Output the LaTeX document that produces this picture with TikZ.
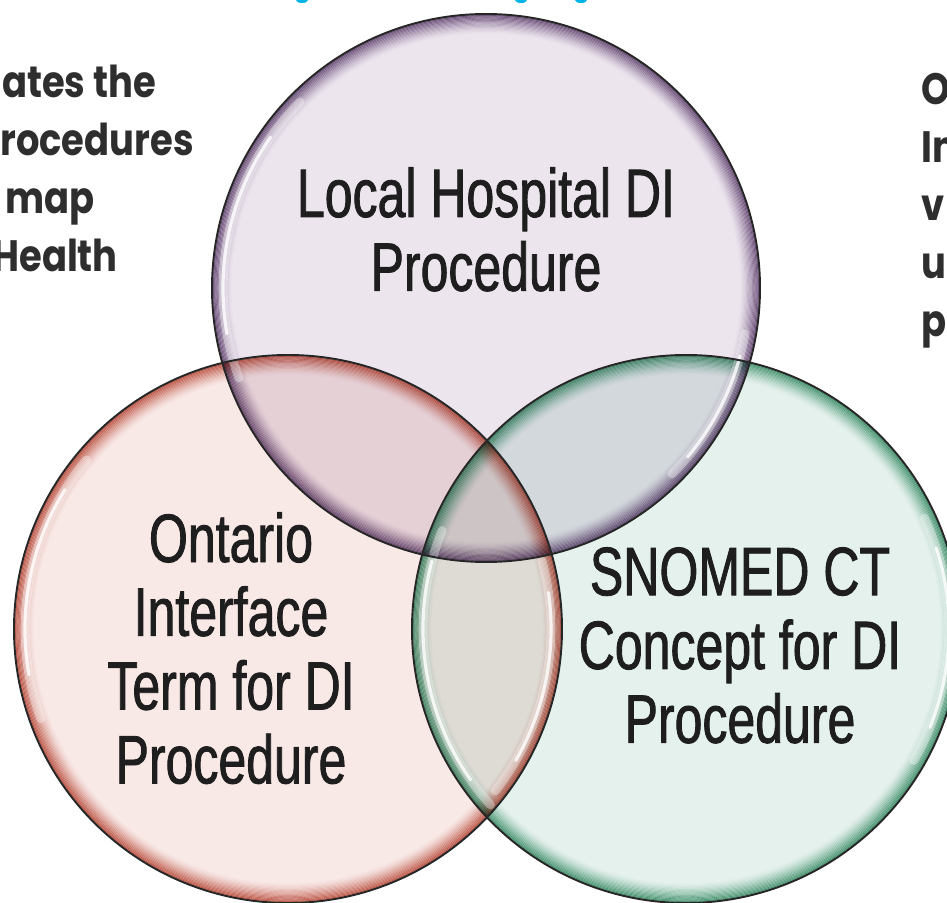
\documentclass[tikz,border=0pt]{standalone}
\usepackage{fontspec}
\newfontfamily\condfont[FakeStretch=0.73, FakeBold=1.2]{Liberation Sans}
\newfontfamily\sidefont[FakeStretch=0.84]{Poppins}
\usepackage{xcolor}
\definecolor{localFill}{HTML}{ECE5EE}
\definecolor{localRim}{HTML}{6E4C7E}
\definecolor{ontFill}{HTML}{F8E8E6}
\definecolor{ontRim}{HTML}{C4543F}
\definecolor{snoFill}{HTML}{E5F1ED}
\definecolor{snoRim}{HTML}{3F9B73}
\definecolor{textdark}{HTML}{1E1E1E}
\definecolor{sidegray}{HTML}{2E2E2E}
\definecolor{titlecyan}{HTML}{00B4E6}
\newcommand\rad{274}

\begin{document}
\begin{tikzpicture}[x=0.02cm, y=0.02cm,
    circtext/.style={font=\condfont\fontsize{39}{42}\selectfont, text=textdark, align=center, inner sep=0pt, anchor=north},
    sidetext/.style={font=\sidefont\bfseries\fontsize{25}{33}\selectfont, text=sidegray, align=left, inner sep=0pt, anchor=north west},
    shine/.style={white, line width=5pt, opacity=0.35, line cap=round},
    shineline/.style={white, line width=1.8pt, opacity=0.8, line cap=round}]

    \useasboundingbox (0,0) rectangle (947,903);
    \clip (0,0) rectangle (947,903);

    \coordinate (c_local) at (486,615);
    \coordinate (c_ont) at (288,274);
    \coordinate (c_sno) at (686,274);

    % tinted discs and their rims
    \begin{scope}[blend mode=multiply]
        \fill[localFill] (c_local) circle[radius=\rad];
        \fill[ontFill] (c_ont) circle[radius=\rad];
        \fill[snoFill] (c_sno) circle[radius=\rad];
        \foreach \k [evaluate=\k as \op using 0.65*(1-\k/16)^1.5] in {0,...,15} {
            \draw[localRim, line width=1pt, draw opacity=\op] (c_local) circle[radius={\rad-1-\k*1.2}];
            \draw[ontRim, line width=1pt, draw opacity=\op] (c_ont) circle[radius={\rad-1-\k*1.2}];
            \draw[snoRim, line width=1pt, draw opacity=\op] (c_sno) circle[radius={\rad-1-\k*1.2}];
        }
    \end{scope}

    % highlights
    \draw[shine] (c_local) ++(135:263) arc[start angle=135, end angle=200, radius=263];
    \draw[shineline] (c_local) ++(145:263) arc[start angle=145, end angle=190, radius=263];
    \draw[shine] (c_local) ++(-10:263) arc[start angle=-10, end angle=-45, radius=263];
    \draw[shineline] (c_local) ++(-15:263) arc[start angle=-15, end angle=-40, radius=263];

    \draw[shine] (c_ont) ++(140:263) arc[start angle=140, end angle=200, radius=263];
    \draw[shineline] (c_ont) ++(148:263) arc[start angle=148, end angle=190, radius=263];
    \draw[shine] (c_ont) ++(15:263) arc[start angle=15, end angle=-38, radius=263];
    \draw[shineline] (c_ont) ++(8:263) arc[start angle=8, end angle=-30, radius=263];

    \draw[shine] (c_sno) ++(158:263) arc[start angle=158, end angle=222, radius=263];
    \draw[shineline] (c_sno) ++(165:263) arc[start angle=165, end angle=215, radius=263];
    \draw[shine] (c_sno) ++(25:263) arc[start angle=25, end angle=-30, radius=263];
    \draw[shineline] (c_sno) ++(18:263) arc[start angle=18, end angle=-22, radius=263];

    % outlines
    \draw[black!85, line width=1.1pt] (c_local) circle[radius=\rad];
    \draw[black!85, line width=1.1pt] (c_ont) circle[radius=\rad];
    \draw[black!85, line width=1.1pt] (c_sno) circle[radius=\rad];

    \node[circtext] (local_txt) at (486,736) {Local Hospital DI\\Procedure};
    \node[circtext] (ont_txt) at (231,391) {Ontario\\Interface\\Term for DI\\Procedure};
    \node[circtext] (sno_txt) at (740,356) {SNOMED CT\\Concept for DI\\Procedure};

    \node[sidetext] (left_txt) at (-8,838) {\hspace*{5.5pt}ates the\\\hspace*{4.5pt}rocedures\\\hspace*{7.5pt}map\\Health};
    \node[sidetext] (right_txt) at (921,830) {O\\In\\v\\u\\p};

    % title descenders cut by the top edge
    \fill[titlecyan] (302,903) ellipse[x radius=6, y radius=3];
    \fill[titlecyan] (521,903) ellipse[x radius=6, y radius=3];
    \fill[titlecyan] (581,903) ellipse[x radius=6, y radius=3];
\end{tikzpicture}
\end{document}
